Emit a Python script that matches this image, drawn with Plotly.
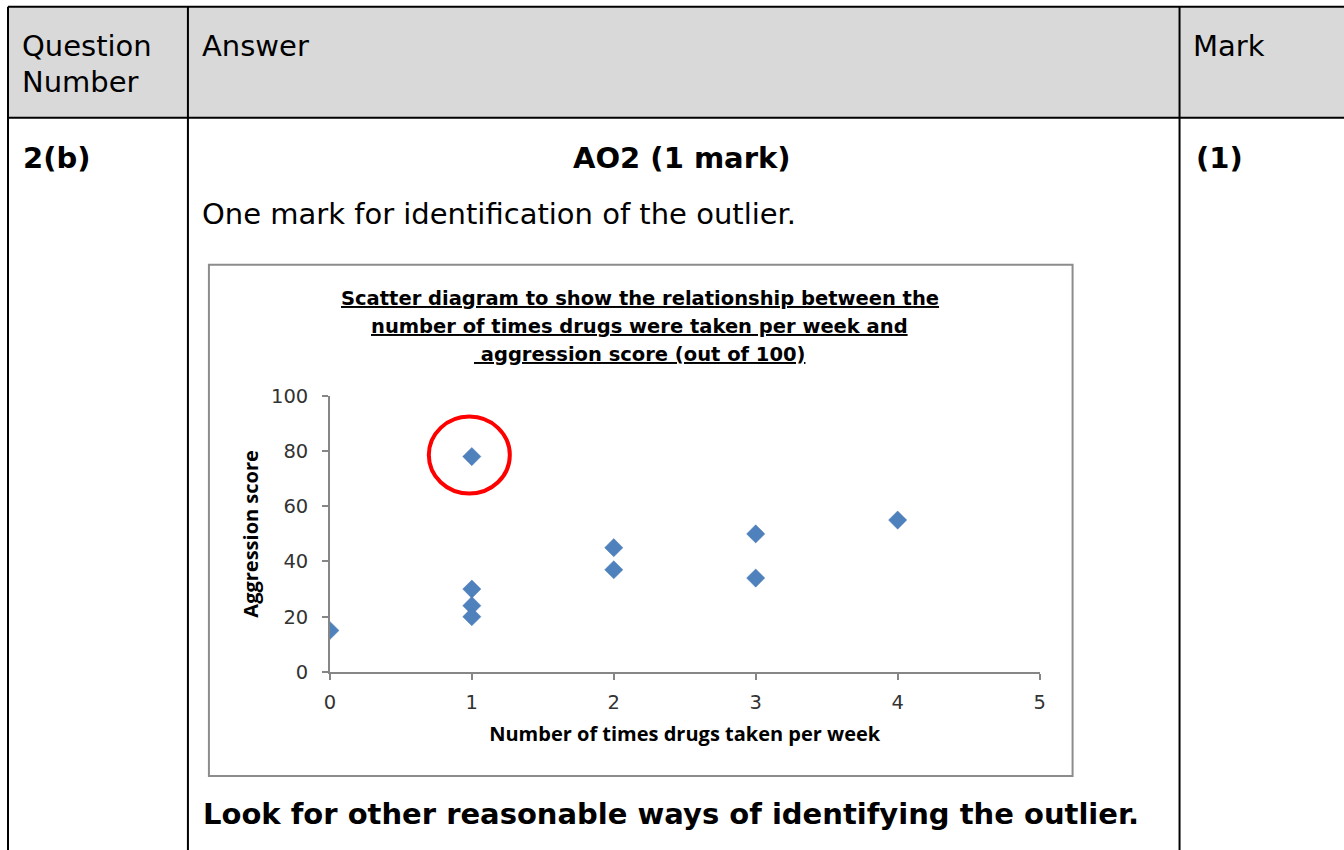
import plotly.graph_objects as go

# ---- data ----
drug_times = [0, 1, 1, 1, 1, 2, 2, 3, 3, 4]
aggression = [15, 78, 30, 24, 20, 45, 37, 50, 34, 55]
outlier_x = 1
outlier_y = 78
x_ticks = [0, 1, 2, 3, 4, 5]
y_ticks = [0, 20, 40, 60, 80, 100]

title_lines = [
    "Scatter diagram to show the relationship between the",
    "number of times drugs were taken per week and",
    "\u00a0aggression score (out of 100)",
]

W, H = 1350, 862
# observed mapping of figure pixels into the final picture
SX, OX = 0.9915, 5.0
SY, OY = 0.973, 11.3


def px(x):
    return (x - OX) / (SX * W)


def py(y):
    return 1 - (y - OY) / (SY * H)


fig = go.Figure()
fig.add_trace(go.Scatter(
    x=drug_times, y=aggression, mode="markers",
    marker=dict(symbol="diamond", size=14, color="#4f81bd",
                line=dict(width=0.5, color="#4a7ab5")),
    showlegend=False, hoverinfo="x+y",
))

axis_common = dict(
    showgrid=False, zeroline=False, showline=True, linecolor="#868686", linewidth=1.5,
    ticks="outside", ticklen=6, tickcolor="#868686", tickwidth=1.5,
    tickfont=dict(family="DejaVu Sans, sans-serif", size=19.5, color="#333333"),
)
axis_title_font = dict(family="Open Sans, sans-serif", size=20, color="black")

fig.update_layout(
    width=W, height=H, margin=dict(l=0, r=0, t=0, b=0),
    paper_bgcolor="white", plot_bgcolor="rgba(0,0,0,0)",
    xaxis=dict(domain=[px(329), px(1039)], range=[0, 5], tickvals=x_ticks,
               ticklabelstandoff=6,
               title=dict(text="<b>Number of times drugs taken per week</b>",
                          font=axis_title_font, standoff=14),
               **axis_common),
    yaxis=dict(domain=[py(672), py(396)], range=[0, 100], tickvals=y_ticks,
               ticklabelstandoff=10,
               title=dict(text="<b>Aggression score</b>",
                          font=axis_title_font, standoff=7),
               **axis_common),
    showlegend=False,
)

shapes = []
# header fill
shapes.append(dict(type="rect", xref="paper", yref="paper", x0=px(7), x1=1, y0=py(118), y1=py(7),
                   fillcolor="#d9d9d9", line=dict(width=0), layer="below"))
black = dict(color="black", width=2)
# table lines
shapes.append(dict(type="line", xref="paper", yref="paper", x0=px(7), x1=1, y0=py(7), y1=py(7), line=black))
shapes.append(dict(type="line", xref="paper", yref="paper", x0=px(7), x1=1, y0=py(118), y1=py(118), line=black))
for xv in (7, 187, 1179):
    shapes.append(dict(type="line", xref="paper", yref="paper", x0=px(xv), x1=px(xv), y0=py(7), y1=0, line=black))
# chart box
shapes.append(dict(type="rect", xref="paper", yref="paper", x0=px(208), x1=px(1072), y0=py(776), y1=py(265),
                   line=dict(color="#8c8c8c", width=2), fillcolor="rgba(0,0,0,0)", layer="below"))
# red circle around the outlier
shapes.append(dict(type="circle", xref="x", yref="y", xsizemode="pixel", ysizemode="pixel",
                   xanchor=outlier_x, yanchor=outlier_y, x0=-43, x1=38, y0=-37, y1=40,
                   line=dict(color="#ff0000", width=4)))
fig.update_layout(shapes=shapes)

tfont = dict(family="DejaVu Sans, Verdana, sans-serif", size=29, color="black")
annos = [
    dict(text="Question", x=px(19), y=py(46), xanchor="left"),
    dict(text="Number", x=px(19), y=py(82), xanchor="left"),
    dict(text="Answer", x=px(199), y=py(46), xanchor="left"),
    dict(text="Mark", x=px(1190), y=py(46), xanchor="left"),
    dict(text="<b>2(b)</b>", x=px(20), y=py(158), xanchor="left"),
    dict(text="<b>AO2 (1 mark)</b>", x=px(681), y=py(158), xanchor="center"),
    dict(text="<b>(1)</b>", x=px(1193), y=py(158), xanchor="left"),
    dict(text="One mark for identification of the outlier.", x=px(199), y=py(214), xanchor="left"),
    dict(text="<b>Look for other reasonable ways of identifying the outlier.</b>", x=px(200), y=py(814),
         xanchor="left"),
]
for a in annos:
    fig.add_annotation(xref="paper", yref="paper", yanchor="middle", showarrow=False, font=tfont, **a)

for i, line in enumerate(title_lines):
    fig.add_annotation(
        xref="paper", yref="paper", x=px(639), y=py(299 + 28 * i), xanchor="center", yanchor="middle",
        showarrow=False, text="<b><u>" + line + "</u></b>",
        font=dict(family="DejaVu Sans, sans-serif", size=19.5, color="black"),
    )

fig.write_html("out.html", config={"displayModeBar": False},
               post_script="document.body.style.margin='0';document.body.style.padding='0';")
